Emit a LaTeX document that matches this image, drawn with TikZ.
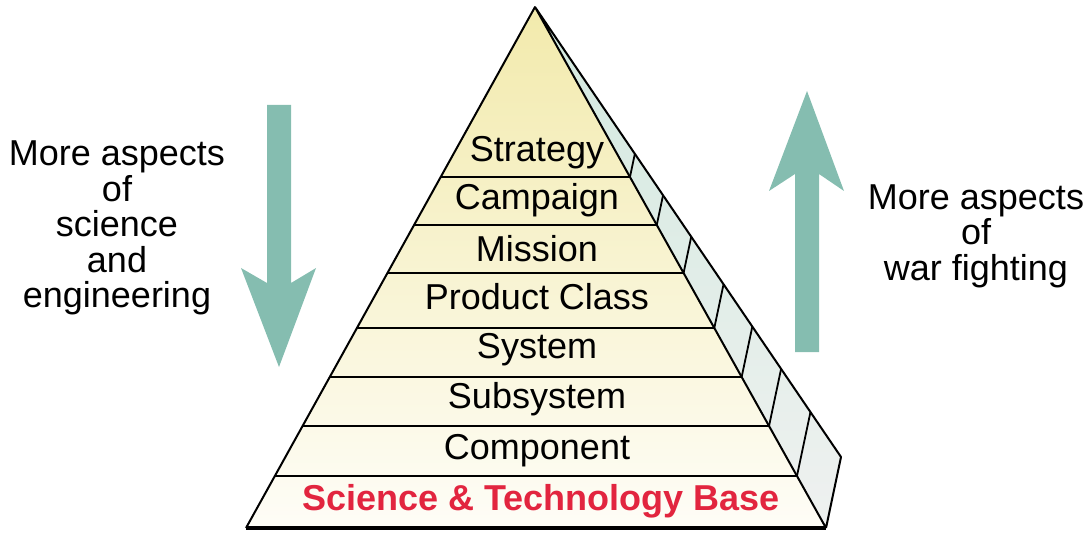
\documentclass[tikz,border=0pt]{standalone}
\usepackage{fontspec}
\setmainfont{Liberation Sans}
\usetikzlibrary{calc}

\definecolor{arrowgreen}{HTML}{85BDB0}
\definecolor{facetop}{HTML}{F2EAAC}
\definecolor{facebot}{HTML}{FEFDF7}
\definecolor{sidetop}{HTML}{D2E9DF}
\definecolor{sidebot}{HTML}{EFF1F0}
\definecolor{basered}{HTML}{E2253F}

\tikzset{
  level/.style={anchor=base, font=\fontsize{36}{37}\selectfont},
  aspect/.style={align=center, font=\fontsize{36}{35.5}\selectfont},
}

\begin{document}
\begin{tikzpicture}[x=1pt, y=-1pt]
            \useasboundingbox (0,0) rectangle (1091,534);

            \coordinate (apex) at (535,7);
            \coordinate (baseL) at (246,528);
            \coordinate (baseR) at (826,528);
            \coordinate (sideB) at (841,457);

            \shade [top color=facetop, bottom color=facebot] (apex) -- (baseL) -- (baseR) -- cycle;
            \shade [top color=sidetop, bottom color=sidebot] (apex) -- (baseR) -- (sideB) -- cycle;

            \foreach \y in {177,225,273,328,377,426,476} {
                \pgfmathsetmacro{\t}{(\y-7)/521}
                \draw [line width=2pt] ($(apex)!\t!(baseL)$) -- ($(apex)!\t!(baseR)$);
                \draw [line width=1.8pt] ($(apex)!\t!(baseR)$) -- ($(apex)!\t!(sideB)$);
            }

            \draw [line width=2pt, line join=round] (apex) -- (baseL) (baseR) -- (sideB) -- (apex) -- (baseR);
            \draw [line width=4pt] (baseL) -- (baseR);

            \node [level] (strategy) at (537,162) {Strategy};
            \node [level] (campaign) at (537,210) {Campaign};
            \node [level] (mission) at (537,262) {Mission};
            \node [level] (product) at (537,309) {Product Class};
            \node [level] (system) at (537,358) {System};
            \node [level] (subsystem) at (537,408) {Subsystem};
            \node [level] (component) at (537,459) {Component};
            \node [level, font=\fontsize{36}{37}\selectfont\bfseries, text=basered] (stbase) at (541,510) {Science \& Technology Base};

            % arrows beside the pyramid
            \fill [arrowgreen] (267,105) -- (291,105) -- (291,283) -- (316,268) -- (279,367) -- (241,268) -- (267,283) -- cycle;
            \fill [arrowgreen] (795,352) -- (819,352) -- (819,174) -- (844,191) -- (807,91) -- (769,191) -- (795,174) -- cycle;

            \node [aspect] (science) at (117,228) {More aspects\\of\\science\\and\\engineering};
            \node [aspect] (warfighting) at (976,236) {More aspects\\of\\war fighting};
        \end{tikzpicture}
\end{document}
